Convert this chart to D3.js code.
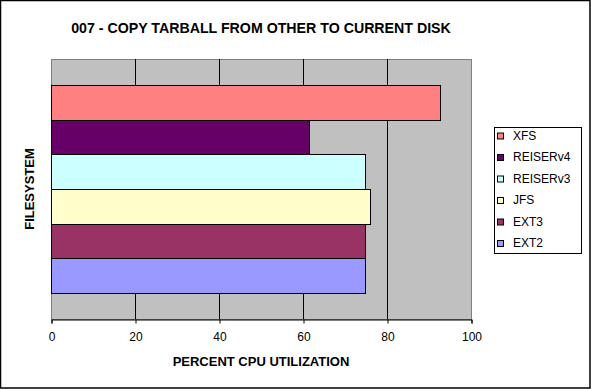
<!DOCTYPE html>
<html>
<head>
<meta charset="utf-8">
<script src="https://cdn.jsdelivr.net/npm/d3@7"></script>
<style>
  body { margin: 0; background: #fff; }
  svg { display: block; font-family: "Liberation Sans", Arial, sans-serif; }
</style>
</head>
<body>
<div id="chart"></div>
<script>
var width = 591, height = 389;

// data (top to bottom as drawn)
var series = ["XFS", "REISERv4", "REISERv3", "JFS", "EXT3", "EXT2"];
var values = [92.5, 61.5, 74.8, 76.0, 74.8, 74.8];
var colors = ["#FF8080", "#660066", "#CCFFFF", "#FFFFCC", "#993366", "#9999FF"];
var ticks = [0, 20, 40, 60, 80, 100];

var titleText = "007 - COPY TARBALL FROM OTHER TO CURRENT DISK";
var xTitle = "PERCENT CPU UTILIZATION";
var yTitle = "FILESYSTEM";

var plot = { left: 51, top: 59, right: 471, bottom: 319 };

var svg = d3.select("#chart").append("svg")
    .attr("width", width)
    .attr("height", height);

// outer chart border
svg.append("rect")
    .attr("x", 0.5).attr("y", 0.5)
    .attr("width", width - 1.5).attr("height", height - 1.5)
    .style("fill", "#fff")
    .style("stroke", "#000")
    .style("stroke-width", 1.5);

var x = d3.scaleLinear().domain([0, 100]).range([plot.left, plot.right]);
var y = d3.scaleBand().domain(series).range([plot.top, plot.bottom])
    .paddingInner(0).paddingOuter(0.75);

// plot area
svg.append("rect")
    .attr("x", plot.left + 0.5).attr("y", plot.top + 0.5)
    .attr("width", plot.right - plot.left).attr("height", plot.bottom - plot.top)
    .style("fill", "#C0C0C0")
    .style("stroke", "#808080")
    .style("stroke-width", 1);

// gridlines
svg.selectAll(".grid")
    .data(ticks.slice(1, -1))
    .enter()
    .append("line")
    .attr("x1", function (d) { return Math.round(x(d)) + 0.5; })
    .attr("x2", function (d) { return Math.round(x(d)) + 0.5; })
    .attr("y1", plot.top)
    .attr("y2", plot.bottom)
    .style("stroke", "#000")
    .style("stroke-width", 1);

// bars
svg.selectAll(".bar")
    .data(series)
    .enter()
    .append("rect")
    .attr("x", x(0) + 0.5)
    .attr("y", function (d) { return Math.round(y(d)) + 0.5; })
    .attr("width", function (d, i) { return Math.round(x(values[i]) - x(0)); })
    .attr("height", function (d) { return Math.round(y(d) + y.bandwidth()) - Math.round(y(d)); })
    .style("fill", function (d, i) { return colors[i]; })
    .style("stroke", "#000")
    .style("stroke-width", 1);

// x axis
var axis = svg.append("g")
    .attr("transform", "translate(0.5," + (plot.bottom + 0.5) + ")")
    .call(d3.axisBottom(x).tickValues(ticks).tickSize(4).tickPadding(9)
        .tickFormat(d3.format("d")));
axis.select(".domain").style("stroke", "#000");
axis.selectAll(".tick line").style("stroke", "#000");
axis.selectAll("text")
    .style("font-size", "12px")
    .style("font-family", "\"Liberation Sans\", Arial, sans-serif")
    .style("fill", "#000");

// titles
svg.append("text")
    .attr("x", (plot.left + plot.right) / 2)
    .attr("y", 33)
    .attr("text-anchor", "middle")
    .style("font-size", "14.2px")
    .style("font-weight", "bold")
    .text(titleText);

svg.append("text")
    .attr("x", (plot.left + plot.right) / 2)
    .attr("y", 366)
    .attr("text-anchor", "middle")
    .style("font-size", "13px")
    .style("font-weight", "bold")
    .text(xTitle);

svg.append("text")
    .attr("transform", "translate(34," + ((plot.top + plot.bottom) / 2) + ") rotate(-90)")
    .attr("text-anchor", "middle")
    .style("font-size", "13px")
    .style("font-weight", "bold")
    .text(yTitle);

// legend
var legend = svg.append("g");
legend.append("rect")
    .attr("x", 494.5).attr("y", 127.5)
    .attr("width", 87).attr("height", 126)
    .style("fill", "#fff")
    .style("stroke", "#000")
    .style("stroke-width", 1);

var items = legend.selectAll(".item")
    .data(series)
    .enter()
    .append("g")
    .attr("transform", function (d, i) { return "translate(0," + (139.5 + i * 21.5) + ")"; });

items.append("rect")
    .attr("x", 497.5).attr("y", -6.5)
    .attr("width", 6).attr("height", 6)
    .style("fill", function (d, i) { return colors[i]; })
    .style("stroke", "#000")
    .style("stroke-width", 1);

items.append("text")
    .attr("x", 513)
    .attr("y", 0)
    .style("font-size", "12px")
    .text(function (d) { return d; });
</script>
</body>
</html>
